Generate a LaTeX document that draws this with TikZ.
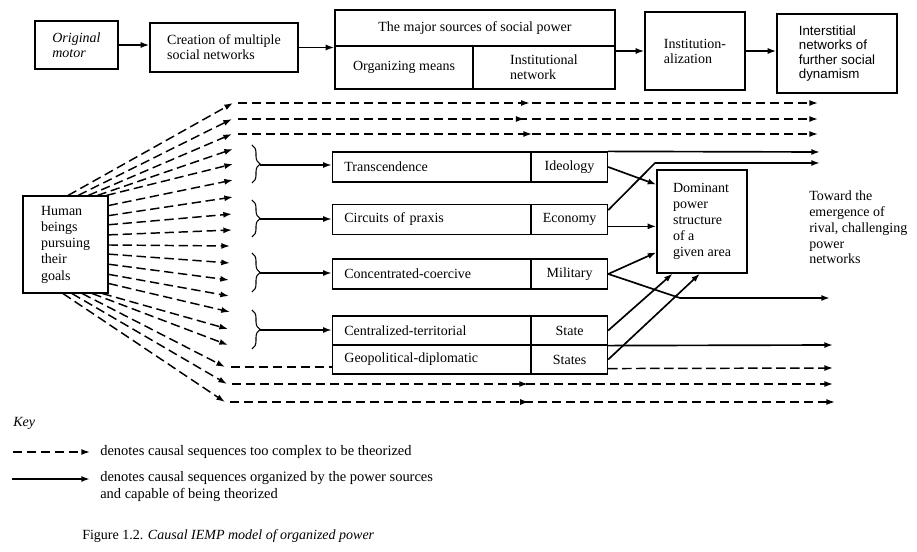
\documentclass[tikz,border=0pt]{standalone}
\usepackage{fontspec}
\setmainfont{Liberation Serif}
\newfontfamily\sansfam{Liberation Sans}
\usetikzlibrary{arrows.meta,calc,decorations.pathreplacing,decorations.markings}
\begin{document}
\begin{tikzpicture}[x=0.75pt,y=-0.75pt,
  font=\fontsize{10.5pt}{12.4pt}\selectfont,
  box/.style={draw,line width=0.9pt,inner sep=0pt,align=left},
  tbox/.style={box,font=\fontsize{10.5pt}{11.2pt}\selectfont},
  lcell/.style={draw,line width=0.9pt,inner ysep=0pt,inner xsep=9pt,text width=130.5pt,align=left,minimum height=#1},
  rcell/.style={draw,line width=0.9pt,inner sep=0pt,minimum width=57pt,minimum height=#1,align=center},
  sarr/.style={line width=1.25pt,line join=round,-{Latex[length=6.5pt,width=4.5pt]}},
  darr/.style={line width=1.1pt,dash pattern=on 7pt off 3.5pt,-{Latex[length=6.5pt,width=4.5pt]}},
  dline/.style={line width=1.1pt,dash pattern=on 7pt off 3.5pt},
  midarr/.style={postaction={decorate},decoration={markings,mark=at position #1 with {\arrow{Latex[length=6.5pt,width=4.5pt]}}}},
  brc/.style={line width=0.8pt,decorate,decoration={brace,amplitude=6pt}}
]
\useasboundingbox (0,0) rectangle (917,552);

% ---------- top row ----------
\node[tbox,font=\fontsize{10.5pt}{11.2pt}\selectfont\itshape,minimum width=62.25pt,minimum height=36pt] (om) at (76.5,45) {Original\\motor};
\node[tbox,minimum width=111pt,minimum height=36.75pt] (cr) at (224,47.5) {Creation of multiple\\social networks};
\node[tbox,align=center,minimum width=210pt,minimum height=27pt] (ms) at (475,28) {The major sources of social power};
\node[tbox,align=center,minimum width=103.5pt,minimum height=32.25pt] (orgm) at (404,67.5) {Organizing means};
\node[tbox,minimum width=106.5pt,minimum height=32.25pt] (instn) at (544,67.5) {Institutional\\network};
\node[tbox,minimum width=75pt,minimum height=58.5pt] (inst) at (695,51) {Institution-\\alization};
\node[tbox,font=\sansfam\fontsize{10pt}{10.7pt}\selectfont,minimum width=90pt,minimum height=59.25pt] (inter) at (837,53.5) {Interstitial\\networks of\\further social\\dynamism};

\draw[sarr] (om.east) -- (om.east -| cr.west);
\draw[sarr] (cr.east) -- (cr.east -| orgm.west);
\draw[sarr] (instn.east |- inst.west) -- (inst.west);
\draw[sarr] (inst.east) -- (inst.east -| inter.west);

% ---------- human beings ----------
\node[box,minimum width=63.75pt,minimum height=72.75pt,font=\fontsize{10.5pt}{12.2pt}\selectfont] (hb) at (65.5,244.5) {Human\\beings\\pursuing\\their\\goals};

% ---------- power source rows ----------
\node[lcell=22.5pt,anchor=east] (trans) at (531,167) {Transcendence};
\node[rcell=22.5pt,anchor=west] (ideo) at (531,167) {Ideology};
\node[lcell=22.5pt,anchor=east] (circ) at (531,219.5) {Circuits of praxis};
\node[rcell=22.5pt,anchor=west] (econ) at (531,219.5) {Economy};
\node[lcell=22.5pt,anchor=east] (conc) at (531,274) {Concentrated-coercive};
\node[rcell=22.5pt,anchor=west] (mil) at (531,274) {Military};
\node[lcell=21.75pt,anchor=east] (cent) at (531,330.5) {Centralized-territorial};
\node[rcell=21.75pt,anchor=west] (state) at (531,330.5) {State};
\node[lcell=21.75pt,anchor=east] (geo) at (531,359.5) {Geopolitical-diplomatic};
\node[rcell=21.75pt,anchor=west] (states) at (531,359.5) {States};

% ---------- dominant ----------
\node[box,minimum width=67.5pt,minimum height=77.25pt,font=\fontsize{10.5pt}{12pt}\selectfont] (dom) at (702,221.5) {Dominant\\power\\structure\\of a\\given area};
\node[anchor=north west,inner sep=0pt,align=left,font=\fontsize{10.5pt}{11.8pt}\selectfont] (tow) at (809,191) {Toward the\\emergence of\\rival, challenging\\power\\networks};

% ---------- fan ----------
\foreach \i/\a/\b/\f/\x/\y in {
 1/north west/north east/0.530/233/103,
 2/north west/north east/0.647/232/119,
 3/north west/north east/0.765/232/134,
 4/north west/north east/0.871/233/149,
 5/north west/north east/0.976/233/164,
 6/north east/south east/0.103/233/180,
 7/north east/south east/0.206/233/197,
 8/north east/south east/0.299/232/214,
 9/north east/south east/0.402/232/230,
 10/north east/south east/0.505/230/246,
 11/north east/south east/0.598/230/263,
 12/north east/south east/0.701/229/280,
 13/north east/south east/0.804/229/296,
 14/north east/south east/0.897/230/312,
 15/south west/south east/0.929/228/329,
 16/south west/south east/0.812/228/345,
 17/south west/south east/0.694/225/367,
 18/south west/south east/0.576/227/384,
 19/south west/south east/0.471/225/402}
{
 \coordinate (f\i) at (\x,\y);
 \draw[darr] ($(hb.\a)!\f!(hb.\b)$) -- (f\i);
}

% ---------- braces ----------
\draw[brc] (252,145) -- (252,183);
\draw[brc] (252,200) -- (252,237);
\draw[brc] (252,253) -- (252,292);
\draw[brc] (252,310) -- (252,349);
\coordinate (b1) at (260,165);
\coordinate (b2) at (260,219);
\coordinate (b3) at (260,273);
\coordinate (b4) at (260,330);
\draw[sarr] (b1) -- (b1 -| trans.west);
\draw[sarr] (b2) -- (b2 -| circ.west);
\draw[sarr] (b3) -- (b3 -| conc.west);
\draw[sarr] (b4) -- (b4 -| cent.west);

% ---------- dashed continuations ----------
\coordinate (d1s) at (238,103); \coordinate (d1e) at (818,103);
\coordinate (d2s) at (238,119); \coordinate (d2e) at (818,119);
\coordinate (d3s) at (238,134); \coordinate (d3e) at (818,134);
\draw[darr,midarr=0.503] (d1s) -- (d1e);
\draw[darr,midarr=0.494] (d2s) -- (d2e);
\draw[darr,midarr=0.507] (d3s) -- (d3e);
\coordinate (d17s) at (231,367);
\draw[dline] (d17s) -- (d17s -| geo.west);
\coordinate (d17e) at (833,368);
\draw[darr] ($(states.north east)!0.8!(states.south east)$) -- (d17e);
\coordinate (d18s) at (232,384); \coordinate (d18e) at (833,384);
\coordinate (d19s) at (230,402); \coordinate (d19e) at (835,402);
\draw[darr,midarr=0.4925] (d18s) -- (d18e);
\draw[darr,midarr=0.494] (d19s) -- (d19e);

% ---------- solid arrows on the right ----------
\coordinate (e1) at (820,152);
\draw[sarr] (ideo.north east) -- (e1);
\coordinate (e2a) at (655,163); \coordinate (e2) at (820,163);
\draw[sarr] ($(econ.north east)!0.2!(econ.south east)$) -- (e2a) -- (e2);
\draw[sarr] (ideo.east) -- ($(dom.north west)!0.146!(dom.south west)$);
\draw[sarr] ($(econ.north east)!0.72!(econ.south east)$) coordinate (ep) -- (ep -| dom.west);
\draw[sarr] (mil.east) -- ($(dom.north west)!0.796!(dom.south west)$);
\coordinate (e6a) at (680,298); \coordinate (e6) at (830,298);
\draw[sarr] (mil.east) -- (e6a) -- (e6);
\draw[sarr] (state.east) -- ($(dom.south west)!0.178!(dom.south east)$);
\draw[sarr] (states.east) -- ($(dom.south west)!0.478!(dom.south east)$);
\coordinate (e9) at (833,345);
\draw[sarr] (state.south east) -- (e9);

% ---------- key ----------
\node[anchor=west,inner sep=0pt] (key) at (13,423) {\textit{Key}};
\coordinate (k1s) at (13,452); \coordinate (k1e) at (90,452);
\draw[darr] (k1s) -- (k1e);
\node[anchor=west,inner sep=0pt,font=\fontsize{10.85pt}{12.75pt}\selectfont] (k1t) at (100,452) {denotes causal sequences too complex to be theorized};
\coordinate (k2s) at (12,479); \coordinate (k2e) at (90,479);
\draw[sarr] (k2s) -- (k2e);
\node[anchor=north west,inner sep=0pt,align=left,font=\fontsize{10.85pt}{12.75pt}\selectfont] (k2t) at (100,471) {denotes causal sequences organized by the power sources\\and capable of being theorized};
\node[anchor=west,inner sep=0pt] (cap) at (82,536) {Figure 1.2. \textit{Causal IEMP model of organized power}};
\end{tikzpicture}
\end{document}
